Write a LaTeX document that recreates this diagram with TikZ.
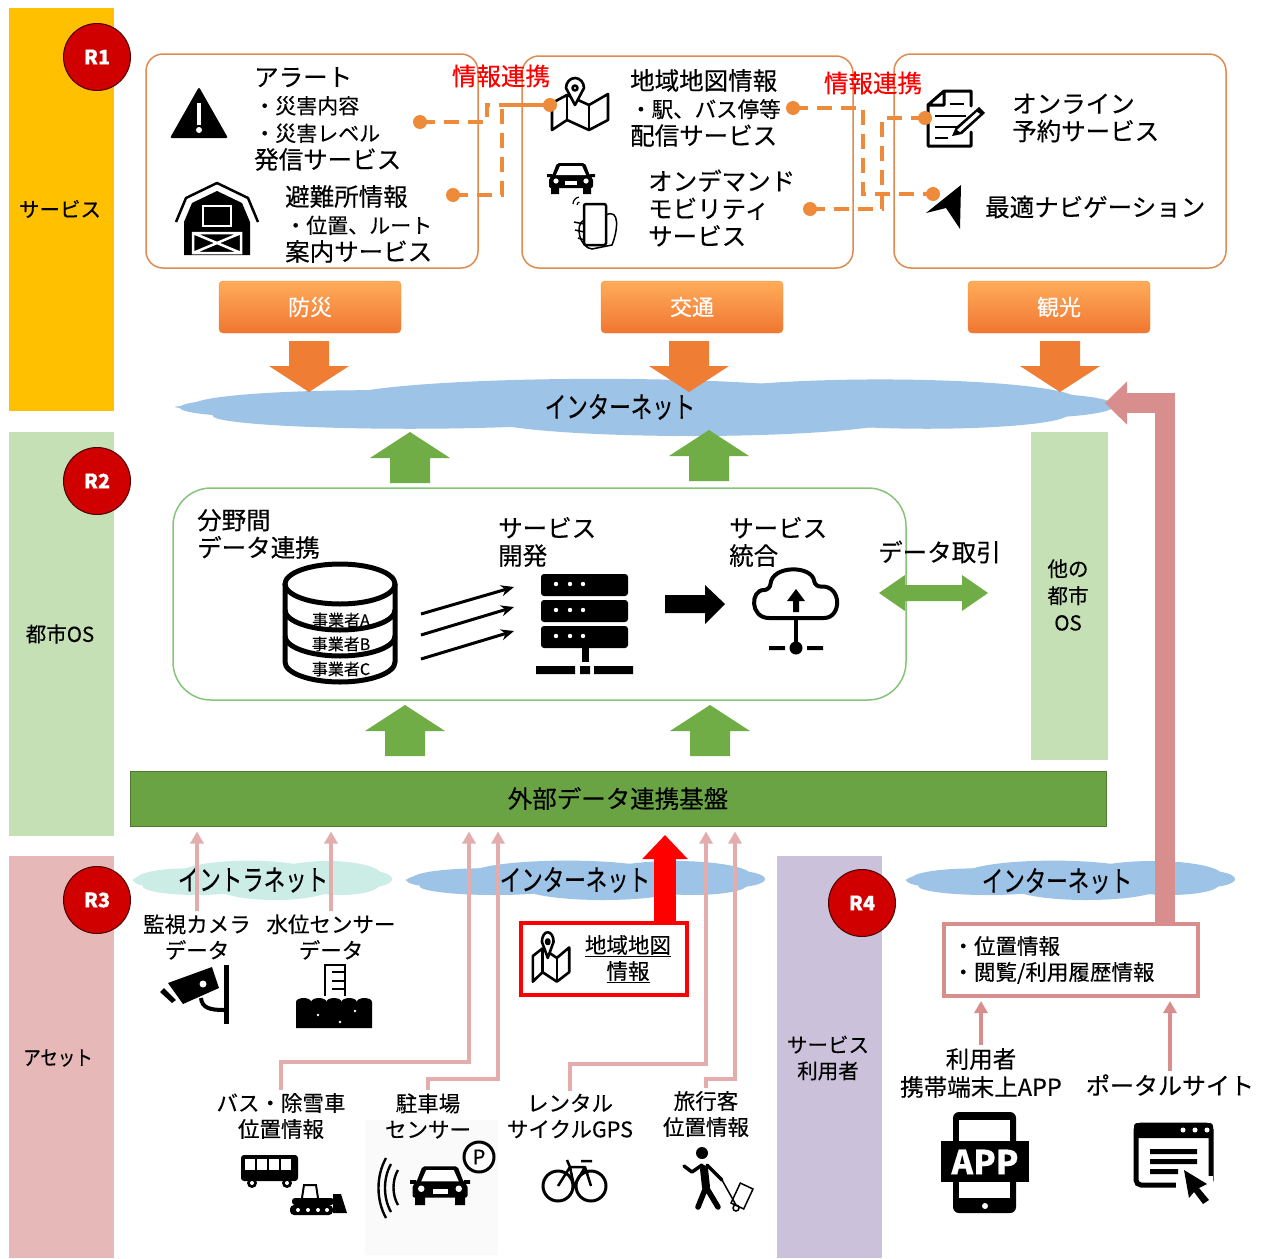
\documentclass[tikz,border=0pt]{standalone}
\usepackage{fontspec}
\setmainfont[FakeBold=0.3]{Noto Sans CJK JP}
\usetikzlibrary{arrows.meta}

\definecolor{svcyellow}{HTML}{FFC000}
\definecolor{osgreen}{HTML}{C5E0B4}
\definecolor{assetpink}{HTML}{E6B9B8}
\definecolor{userpurple}{HTML}{CCC1DA}
\definecolor{cloudblue}{HTML}{9DC3E6}
\definecolor{cloudmint}{HTML}{CBEDE6}
\definecolor{linkorange}{HTML}{ED8B3A}
\definecolor{frameorange}{HTML}{DF8A50}
\definecolor{arrowpink}{HTML}{E3ADAD}
\definecolor{bigpink}{HTML}{D98E8E}
\definecolor{barrowgreen}{HTML}{70AD47}

\newcommand\sz[1]{\fontsize{#1}{#1}\selectfont}

\tikzset{
  txt/.style={inner sep=0pt, align=left, anchor=west, font=\fontsize{24.5}{27.5}\selectfont},
  midtxt/.style={inner sep=3pt, align=center, font=\fontsize{21.5}{26}\selectfont},
  cloudtxt/.style={inner sep=0pt, transform shape, xscale=.74, font=\fontsize{29}{29}\selectfont},
  bartxt/.style={inner sep=0pt, align=center, font=\fontsize{20.5}{26}\selectfont},
  redtxt/.style={inner sep=0pt, text=red, font=\fontsize{24.5}{24.5}\selectfont},
  rmark/.style={circle, draw=black!70!red, line width=1pt, fill=red!82!black, text=white,
    minimum size=67pt, inner sep=0pt, font=\bfseries\fontsize{20}{20}\selectfont},
  svcbtn/.style={rounded corners=4pt, top color=orange!65!white, bottom color=linkorange!85!red,
    draw=linkorange, text=white, minimum width=182pt, minimum height=52pt, inner sep=0pt,
    font=\fontsize{22}{22}\selectfont},
  svcframe/.style={draw=frameorange, line width=1.5pt, rounded corners=17pt},
  osframe/.style={draw=osgreen!80!green!85!black, line width=1.5pt, rounded corners=38pt},
  dotmark/.style={circle, fill=linkorange, minimum size=14pt, inner sep=0pt},
  linkdash/.style={linkorange, line width=4pt, dash pattern=on 15pt off 9pt},
  pinkline/.style={arrowpink, line width=4pt, shorten >=5pt, -{Triangle[length=12pt,width=13pt]}},
  infoline/.style={bigpink, line width=4pt, shorten >=3pt, -{Triangle[length=12pt,width=13pt]}},
  iconline/.style={line width=3pt, line join=round, line cap=round},
}

% x y xradius yradius colour
\newcommand\flatcloud[5]{
  \begin{scope}[shift={(#1,#2)},xscale=#3,yscale=#4]
    \fill[#5] (0,0) ellipse [x radius=1,y radius=.22];
    \fill[#5] (-.58,-.08) ellipse [x radius=.38,y radius=.5];
    \fill[#5] (-.1,-.25) ellipse [x radius=.55,y radius=.72];
    \fill[#5] (.5,-.25) ellipse [x radius=.42,y radius=.7];
    \fill[#5] (-.5,.3) ellipse [x radius=.42,y radius=.45];
    \fill[#5] (.1,.35) ellipse [x radius=.45,y radius=.65];
    \fill[#5] (.6,.25) ellipse [x radius=.3,y radius=.5];
    \fill[#5] (.82,-.05) ellipse [x radius=.18,y radius=.42];
    \fill[#5] (-.84,.02) ellipse [x radius=.15,y radius=.3];
  \end{scope}
}
% x tip-y direction colour
\newcommand\blockarrow[4]{
  \fill[#4,shift={(#1,#2)},yscale=#3] (0,0) -- (40,26) -- (20,26) -- (20,51) -- (-20,51) -- (-20,26) -- (-40,26) -- cycle;
}
% x y xscale yscale
\newcommand\mapicon[4]{
  \begin{scope}[shift={(#1,#2)},xscale=#3,yscale=#4,line width=2.6pt,line join=round]
    \draw (-28,0) -- (-13,-8) -- (9,2) -- (28,-9) -- (28,17) -- (9,27) -- (-13,17) -- (-28,27) -- cycle;
    \draw (-13,-8) -- (-13,17) (9,2) -- (9,27);
    \draw[fill=white] (-5,2) -- (-14,-15) arc (180:360:9 and 10) -- cycle;
    \draw (-5,-15) circle [radius=2.5];
  \end{scope}
}
% x y scale
\newcommand\caricon[3]{
  \begin{scope}[shift={(#1,#2)},scale=#3]
    \fill[rounded corners=2pt] (-14,-15) -- (14,-15) -- (19,-2) -- (22,0) -- (22,10) -- (-22,10) -- (-22,0) -- (-19,-2) -- cycle;
    \fill (-20,8) rectangle (-12,16) (12,8) rectangle (20,16);
    \fill (-24,-4) rectangle (-19,-1) (19,-4) rectangle (24,-1);
    \fill[white] (-11,-12) -- (11,-12) -- (15,-3) -- (-15,-3) -- cycle;
    \fill[white] (-15,3) circle [radius=2.6] (15,3) circle [radius=2.6];
    \fill[white] (-6,3) rectangle (6,7);
  \end{scope}
}

\begin{document}
\begin{tikzpicture}[x=1pt,y=-1pt]
  \useasboundingbox (0,0) rectangle (1266,1258);

  % side bands
  \fill[svcyellow] (9,8) rectangle (114,411);
  \fill[osgreen] (9,432) rectangle (114,836);
  \fill[assetpink] (9,856) rectangle (114,1258);
  \fill[userpurple] (777,856) rectangle (882,1258);
  \fill[osgreen] (1031,432) rectangle (1108,760);
  \fill[black!2] (365,1120) rectangle (498,1255);
  \node[bartxt] (svclabel) at (60,209) {サービス};
  \node[bartxt] (oslabel) at (60,634) {都市OS};
  \node[bartxt, transform shape, xscale=.85] (assetlabel) at (58,1058) {アセット};
  \node[bartxt] (userlabel) at (828,1058) {サービス\\利用者};
  \node[bartxt, font=\fontsize{20.5}{27}\selectfont] (othercity) at (1068,595) {他の\\都市\\OS};

  % clouds
  \flatcloud{645}{407}{470}{29}{cloudblue}
  \flatcloud{262}{880}{130}{20}{cloudmint}
  \flatcloud{585}{880}{180}{20}{cloudblue}
  \flatcloud{1070}{880}{165}{20}{cloudblue}
  \node[cloudtxt] (nettop) at (620,407) {インターネット};
  \node[cloudtxt] (intranet) at (253,880) {イントラネット};
  \node[cloudtxt] (netmid) at (575,880) {インターネット};
  \node[cloudtxt] (netright) at (1057,881) {インターネット};

  % service frames
  \draw[svcframe] (146,54) rectangle (478,268);
  \draw[svcframe] (522,56) rectangle (853,268);
  \draw[svcframe] (894,54) rectangle (1226,268);

  \node[rmark] (r1) at (97,57) {R1};
  \node[rmark] (r2) at (97,481) {R2};
  \node[rmark] (r3) at (97,900) {R3};
  \node[rmark] (r4) at (862,903) {R4};

  \node[txt] (alert) at (254,119) {アラート\\{\fontsize{21}{27}\selectfont ・災害内容}\\{\fontsize{21}{27}\selectfont ・災害レベル}\\発信サービス};
  \node[txt] (shelter) at (285,224) {避難所情報\\{\fontsize{21}{27}\selectfont ・位置、ルート}\\案内サービス};
  \node[txt] (mapinfo) at (630,108) {地域地図情報\\{\fontsize{21.5}{27}\selectfont ・駅、バス停等}\\配信サービス};
  \node[txt] (demand) at (648,208) {オンデマンド\\モビリティ\\サービス};
  \node[txt] (booking) at (1012,118) {オンライン\\予約サービス};
  \node[txt] (navi) at (985,207) {最適ナビゲーション};
  \node[redtxt] (linka) at (501,76) {情報連携};
  \node[redtxt] (linkb) at (873,83) {情報連携};

  % alert and barn
  \fill[rounded corners=2pt] (199,87) -- (228,138) -- (170,138) -- cycle;
  \fill[white] (197,103) rectangle (201,125);
  \fill[white] (199,130) circle [radius=3];
  \draw[line width=2.5pt,line join=round] (176,222) -- (186,198) -- (217,183) -- (248,198) -- (258,222);
  \fill (184,255) -- (184,222) -- (192,203) -- (217,191) -- (242,203) -- (250,222) -- (250,255) -- cycle;
  \draw[white,line width=2.5pt] (203,206) rectangle (231,226);
  \draw[white,line width=2.5pt] (193,233) rectangle (241,253) (193,233) -- (241,253) (193,253) -- (241,233);

  % map and car with phone
  \mapicon{580}{103}{1}{1}
  \caricon{571}{178}{1}
  \draw[line width=2.5pt,rounded corners=2pt] (584,204) rectangle (606,245);
  \draw[line width=1.5pt] (606,215) .. controls (620,208) and (618,230) .. (612,245) -- (592,249) .. controls (580,248) and (574,225) .. (584,220);
  \draw[line width=1.5pt] (574,222) -- (584,224) (575,230) -- (584,232) (578,238) -- (584,240);
  \draw[line width=1.2pt] (573,204) arc (180:260:7) (577,205) arc (180:260:3);

  % document and navigation arrow
  \draw[iconline] (944,91) -- (971,91) -- (971,106) (971,132) -- (971,146) -- (928,146) -- (928,105) -- (944,91) -- (944,105) -- (928,105);
  \draw[line width=2.5pt] (950,104) -- (964,104) (935,116) -- (966,116) (935,127) -- (958,127) (935,138) -- (948,138);
  \fill (952,136) -- (956,127) -- (979,107) -- (985,113) -- (962,134) -- cycle;
  \fill[white] (957,130) -- (977,112) -- (980,114) -- (960,132) -- cycle;
  \fill (961,185) -- (926,213) -- (946,208) -- (960,229) -- cycle;

  % link lines
  \node[dotmark] (alertdot) at (420,122) {};
  \node[dotmark] (shelterdot) at (453,195) {};
  \node[dotmark] (mapdot) at (550,105) {};
  \node[dotmark] (stopdot) at (793,108) {};
  \node[dotmark] (demanddot) at (810,209) {};
  \node[dotmark] (bookdot) at (925,118) {};
  \node[dotmark] (navidot) at (933,194) {};
  \coordinate (joina) at (487,105);
  \coordinate (joinb) at (502,105);
  \coordinate (joinc) at (863,194);
  \coordinate (joind) at (882,118);
  \draw[linkdash] (alertdot.center) -| (joina) -- (mapdot.center);
  \draw[linkdash] (shelterdot.center) -| (joinb) -- (mapdot.center);
  \draw[linkdash] (stopdot.center) -| (joinc) -- (navidot.center);
  \draw[linkdash] (demanddot.center) -| (joind) -- (bookdot.center);

  % field buttons
  \node[svcbtn] (bosai) at (310,307) {防災};
  \node[svcbtn] (kotsu) at (692,307) {交通};
  \node[svcbtn] (kanko) at (1059,307) {観光};
  \blockarrow{309}{392}{-1}{linkorange!90!red}
  \blockarrow{689}{392}{-1}{linkorange!90!red}
  \blockarrow{1060}{392}{-1}{linkorange!90!red}

  % city os
  \blockarrow{410}{432}{1}{barrowgreen}
  \blockarrow{709}{430}{1}{barrowgreen}
  \blockarrow{405}{705}{1}{barrowgreen}
  \blockarrow{710}{705}{1}{barrowgreen}
  \draw[osframe,fill=white] (173,488) rectangle (906,700);
  \node[txt] (bunya) at (197,534) {分野間\\データ連携};
  \node[txt] (kaihatsu) at (498,542) {サービス\\開発};
  \node[txt] (togo) at (729,542) {サービス\\統合};
  \node[txt] (torihiki) at (878,552) {データ取引};
  \fill[barrowgreen] (879,593) -- (905,575) -- (905,585) -- (962,585) -- (962,575) -- (988,593) -- (962,611) -- (962,601) -- (905,601) -- (905,611) -- cycle;

  % database
  \draw[line width=5pt] (285,584) -- (285,662) arc (180:0:55 and 20) -- (395,584);
  \draw[line width=5pt] (340,584) ellipse [x radius=55,y radius=20];
  \draw[line width=5pt] (285,610) arc (180:0:55 and 20);
  \draw[line width=5pt] (285,636) arc (180:0:55 and 20);
  \node[inner sep=0pt,font=\sz{16}] (jigyoa) at (341,620) {事業者A};
  \node[inner sep=0pt,font=\sz{16}] (jigyob) at (341,644) {事業者B};
  \node[inner sep=0pt,font=\sz{16}] (jigyoc) at (341,669) {事業者C};
  \coordinate (dba) at (421,614);
  \coordinate (dbb) at (421,635);
  \coordinate (dbc) at (421,659);
  \coordinate (srva) at (514,587);
  \coordinate (srvb) at (514,607);
  \coordinate (srvc) at (514,631);
  \foreach \a/\b in {dba/srva,dbb/srvb,dbc/srvc}
    \draw[line width=3pt,-{Stealth[length=13pt,width=11pt]}] (\a) -- (\b);

  % server
  \foreach \y in {574,600,626} {
    \fill[rounded corners=3pt] (541,\y) rectangle (628,\y+22);
    \foreach \x in {556,570,583}
      \fill[white] (\x,\y+10) circle [radius=2.2];
  }
  \fill (582,648) rectangle (589,662);
  \fill (536,666) rectangle (575,674) (580,666) rectangle (590,674) (594,666) rectangle (633,674);
  \fill (665,595) -- (705,595) -- (705,585) -- (725,604) -- (705,624) -- (705,613) -- (665,613) -- cycle;

  % cloud icon
  \draw[line width=4pt,line join=round,rounded corners=6pt] (775,618) .. controls (750,618) and (750,590) .. (770,590) .. controls (772,565) and (812,565) .. (815,587) .. controls (842,585) and (842,618) .. (818,618) -- cycle;
  \fill (796,589) -- (805,601) -- (799,601) -- (799,612) -- (793,612) -- (793,601) -- (787,601) -- cycle;
  \fill (794,618) rectangle (798,642);
  \fill (796,648) circle [radius=6.5];
  \fill (769,646) rectangle (785,650) (807,646) rectangle (823,650);

  % data platform
  \node[draw=black!30!barrowgreen, fill=black!6!barrowgreen, line width=1pt, minimum width=976pt, minimum height=55pt, inner sep=0pt, font=\fontsize{24.5}{24.5}\selectfont] (extbar) at (618,798.5) {外部データ連携基盤};

  % asset labels
  \node[midtxt] (camlabel) at (197,937) {監視カメラ\\データ};
  \node[midtxt] (waterlabel) at (331,937) {水位センサー\\データ};
  \node[midtxt] (buslabel) at (281,1116) {バス・除雪車\\位置情報};
  \node[midtxt] (parklabel) at (428,1116) {駐車場\\センサー};
  \node[midtxt] (cyclelabel) at (570,1116) {レンタル\\サイクルGPS};
  \node[midtxt] (touristlabel) at (706,1114) {旅行客\\位置情報};
  \coordinate (busup) at (469,1062);
  \coordinate (parkup) at (498,1079);
  \coordinate (cycleup) at (706,1064);
  \coordinate (touristup) at (735,1079);
  \draw[pinkline] (camlabel.north) -- (camlabel.north |- extbar.south);
  \draw[pinkline] (waterlabel.north) -- (waterlabel.north |- extbar.south);
  \draw[pinkline] (buslabel.north) |- (busup) -- (busup |- extbar.south);
  \draw[pinkline] (parklabel.north) |- (parkup) -- (parkup |- extbar.south);
  \draw[pinkline] (cyclelabel.north) |- (cycleup) -- (cycleup |- extbar.south);
  \draw[pinkline] (touristlabel.north) |- (touristup) -- (touristup |- extbar.south);

  % map data box
  \node[draw=red, line width=4pt, minimum width=166pt, minimum height=72pt, inner sep=0pt] (mapbox) at (604,959) {};
  \node[inner sep=0pt, align=center, font=\fontsize{21.5}{26}\selectfont] (maptext) at (628,959) {\underline{地域地図}\\\underline{情報}};
  \mapicon{551}{956}{.65}{.95}
  \coordinate (redtip) at (665,835);
  \draw[red, line width=22pt, -{Triangle[length=24pt,width=44pt]}] (redtip |- mapbox.north) -- (redtip);

  % user side
  \node[draw=bigpink, line width=4pt, minimum width=254pt, minimum height=72pt, inner sep=0pt, text width=236pt, align=left, font=\fontsize{21.5}{26}\selectfont] (infobox) at (1070.5,960) {・位置情報\\・閲覧/利用履歴情報};
  \coordinate (bigcorner) at (1165,403);
  \coordinate (bigtip) at (1105,403);
  \draw[bigpink, line width=20pt, -{Triangle[length=22pt,width=42pt]}] (infobox.north -| bigcorner) -- (bigcorner) -- (bigtip);
  \node[midtxt, font=\fontsize{23.5}{28}\selectfont] (applabel) at (981,1073) {利用者\\携帯端末上APP};
  \node[midtxt, font=\fontsize{24}{28}\selectfont] (portallabel) at (1170,1085) {ポータルサイト};
  \draw[infoline] (applabel.north) -- (applabel.north |- infobox.south);
  \draw[infoline] (portallabel.north) -- (portallabel.north |- infobox.south);

  % camera and water gauge
  \fill (224,965) rectangle (229,1024);
  \fill (168,983) -- (212,967) -- (219,988) -- (183,1004) -- cycle;
  \fill (160,992) -- (164,988) -- (176,1000) -- (172,1003) -- cycle;
  \fill[white] (203,984) circle [radius=3.5];
  \draw[line width=4pt] (201,998) .. controls (202,1008) and (210,1010) .. (224,1010);
  \draw[line width=2pt] (325,996) -- (325,965) -- (345,965) -- (345,996) (332,972) -- (345,972) (332,981) -- (345,981) (332,989) -- (345,989);
  \fill (296,1002) \foreach \i in {0,...,4} {arc (180:360:7.6 and 4)} -- (372,1028) -- (296,1028) -- cycle;
  \fill[white] (318,1015) circle [radius=1.3] (355,1011) circle [radius=1.3] (340,1022) circle [radius=1.3];

  % bus and dozer
  \fill[rounded corners=3pt] (241,1155) rectangle (298,1181);
  \foreach \x in {245,257,269,281}
    \fill[white] (\x,1159) rectangle (\x+10,1170);
  \fill (252,1183) circle [radius=5] (287,1183) circle [radius=5];
  \fill[white] (252,1183) circle [radius=2] (287,1183) circle [radius=2];
  \draw[line width=2pt] (302,1198) -- (304,1185) -- (316,1185) -- (318,1198);
  \fill[rounded corners=3pt] (292,1198) rectangle (334,1205);
  \fill[rounded corners=4pt] (290,1205) rectangle (333,1215);
  \fill (333,1194) -- (341,1194) -- (347,1213) -- (333,1213) -- cycle;
  \foreach \x in {298,308,318,327}
    \fill[white] (\x,1210) circle [radius=2];

  % parking sensor
  \caricon{440}{1185}{1.25}
  \draw[line width=2.4pt] (398,1170) .. controls (392,1180) and (392,1195) .. (398,1205);
  \draw[line width=2.4pt] (391,1164) .. controls (383,1178) and (383,1198) .. (391,1212);
  \draw[line width=2.4pt] (386,1158) .. controls (376,1176) and (376,1200) .. (386,1218);
  \node[circle, draw, fill=white, line width=3pt, minimum size=30pt, inner sep=0pt, font=\fontsize{20}{20}\selectfont] (pmark) at (479,1157) {P};

  % bicycle
  \draw[line width=3pt] (558,1186) circle [radius=15] (591,1186) circle [radius=15];
  \draw[line width=2.5pt,line join=round] (558,1186) -- (570,1167) -- (585,1167) -- (591,1186) (570,1167) -- (574,1186) -- (585,1167) (567,1160) -- (570,1167) (581,1161) -- (592,1161);

  % walker
  \fill (702,1153) circle [radius=6];
  \draw[line width=8pt,line cap=round,line join=round] (704,1169) -- (706,1187);
  \draw[line width=5.5pt,line cap=round,line join=round] (706,1187) -- (698,1207) (706,1187) -- (718,1207);
  \draw[line width=3.5pt,line cap=round,line join=round] (702,1165) -- (692,1172) -- (684,1166) (707,1165) -- (722,1180);
  \draw[line width=1.5pt] (722,1180) -- (736,1205);
  \draw[line width=1.5pt,rotate around={-25:(742,1196)}] (735,1185) rectangle (749,1207);
  \draw[line width=1.5pt] (736,1208) circle [radius=3];

  % app icon
  \fill[rounded corners=6pt] (953,1112) rectangle (1016,1213);
  \fill[white] (959,1120) rectangle (1010,1198);
  \fill (941,1141) rectangle (1029,1182);
  \node[inner sep=0pt, text=white, font=\bfseries\fontsize{33}{33}\selectfont] (apptext) at (985,1162) {APP};
  \fill[white] (985,1206) circle [radius=3];

  % browser icon
  \draw[line width=5pt,rounded corners=5pt] (1136,1125) rectangle (1211,1185);
  \fill[rounded corners=3pt] (1134,1123) rectangle (1213,1138);
  \foreach \x in {1183,1195,1207}
    \fill[white] (\x,1130) circle [radius=2.5];
  \fill (1150,1149) rectangle (1197,1154) (1150,1159) rectangle (1197,1164) (1150,1169) rectangle (1178,1174);
  \fill[white] (1176,1176) rectangle (1213,1200);
  \fill (1184,1170) -- (1207,1184) -- (1199,1188) -- (1209,1200) -- (1203,1204) -- (1194,1192) -- (1189,1198) -- cycle;
\end{tikzpicture}
\end{document}
